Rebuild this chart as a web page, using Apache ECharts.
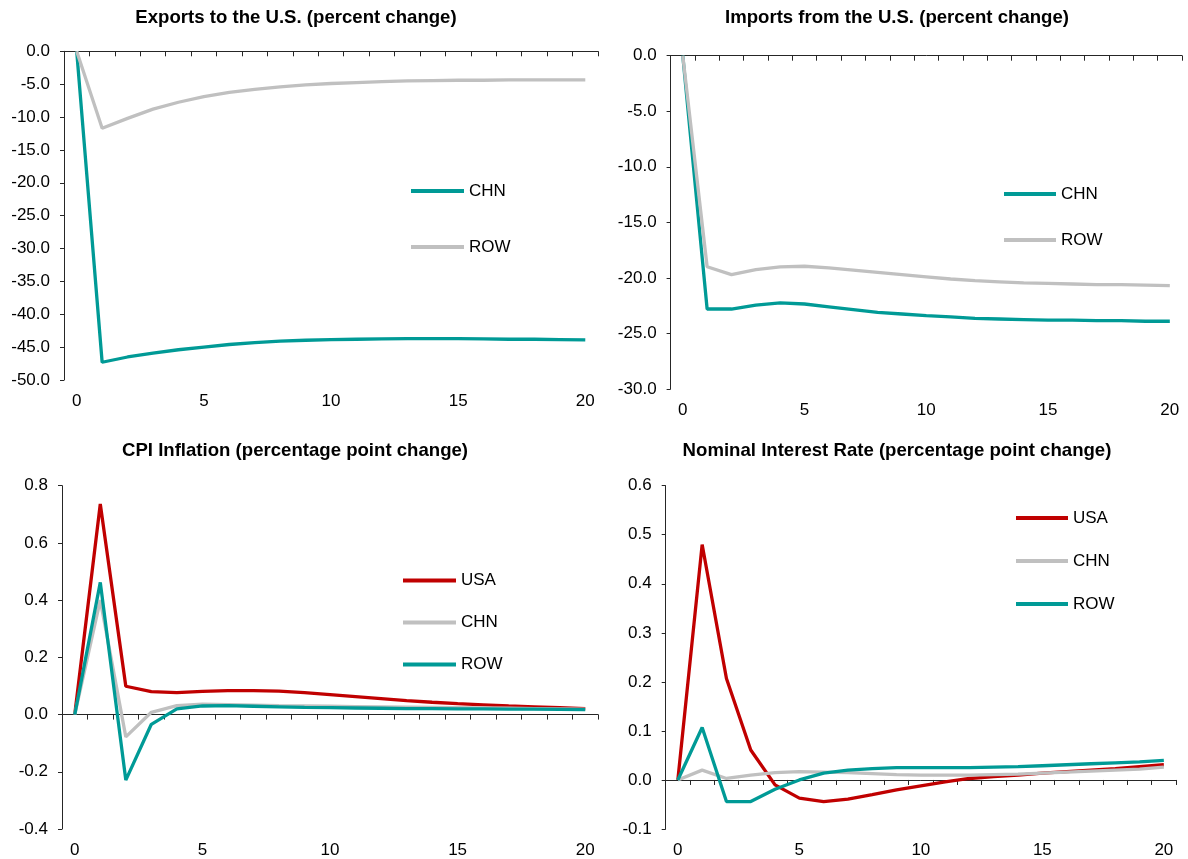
<!DOCTYPE html>
<html>
<head>
<meta charset="utf-8">
<script src="https://cdn.jsdelivr.net/npm/echarts@6/dist/echarts.min.js"></script>
<style>
  html, body { margin: 0; padding: 0; background: #fff; width: 1188px; height: 859px; overflow: hidden; }
  .panel { position: absolute; }
</style>
</head>
<body>
<div id="p1" class="panel" style="left:0;top:0;width:600px;height:430px"></div>
<div id="p2" class="panel" style="left:600px;top:0;width:588px;height:430px"></div>
<div id="p3" class="panel" style="left:0;top:430px;width:600px;height:429px"></div>
<div id="p4" class="panel" style="left:600px;top:430px;width:588px;height:429px"></div>
<script>
// Horizon (quarters after the shock)
const quarters = ['0','1','2','3','4','5','6','7','8','9','10','11','12','13','14','15','16','17','18','19','20'];

// Exports to the U.S. (percent change)
const exportsCHN = [0, -47.3, -46.5, -45.9, -45.4, -45.0, -44.6, -44.3, -44.1, -43.95, -43.85, -43.8, -43.75, -43.7, -43.7, -43.7, -43.75, -43.8, -43.8, -43.85, -43.9];
const exportsROW = [0, -11.7, -10.2, -8.8, -7.75, -6.9, -6.25, -5.8, -5.4, -5.1, -4.9, -4.75, -4.6, -4.5, -4.45, -4.4, -4.4, -4.35, -4.35, -4.35, -4.35];

// Imports from the U.S. (percent change)
const importsCHN = [0, -22.8, -22.8, -22.45, -22.25, -22.35, -22.6, -22.85, -23.1, -23.25, -23.4, -23.5, -23.65, -23.7, -23.75, -23.8, -23.8, -23.85, -23.85, -23.9, -23.9];
const importsROW = [0, -19.0, -19.7, -19.25, -19.0, -18.95, -19.1, -19.3, -19.5, -19.7, -19.9, -20.1, -20.25, -20.35, -20.45, -20.5, -20.55, -20.6, -20.6, -20.65, -20.7];

// CPI inflation (percentage point change)
const cpiUSA = [0, 0.736, 0.099, 0.080, 0.077, 0.081, 0.084, 0.084, 0.082, 0.077, 0.070, 0.063, 0.056, 0.049, 0.043, 0.038, 0.034, 0.030, 0.027, 0.024, 0.021];
const cpiCHN = [0, 0.40, -0.078, 0.008, 0.031, 0.036, 0.035, 0.033, 0.031, 0.030, 0.029, 0.028, 0.027, 0.026, 0.025, 0.024, 0.023, 0.022, 0.021, 0.020, 0.019];
const cpiROW = [0, 0.462, -0.229, -0.034, 0.020, 0.030, 0.031, 0.029, 0.027, 0.025, 0.024, 0.023, 0.022, 0.021, 0.021, 0.020, 0.020, 0.019, 0.019, 0.018, 0.017];

// Nominal interest rate (percentage point change)
const rateUSA = [0, 0.480, 0.207, 0.061, -0.010, -0.037, -0.044, -0.039, -0.030, -0.020, -0.012, -0.004, 0.003, 0.007, 0.010, 0.014, 0.017, 0.020, 0.023, 0.027, 0.031];
const rateCHN = [0, 0.020, 0.003, 0.010, 0.015, 0.017, 0.016, 0.015, 0.013, 0.011, 0.010, 0.010, 0.010, 0.011, 0.012, 0.014, 0.016, 0.018, 0.020, 0.022, 0.026];
const rateROW = [0, 0.107, -0.044, -0.044, -0.019, 0.000, 0.014, 0.020, 0.023, 0.025, 0.025, 0.025, 0.025, 0.026, 0.027, 0.029, 0.031, 0.033, 0.035, 0.037, 0.040];

const TEAL = '#009a96';
const RED = '#c00000';
const GRAY = '#c0c0c0';
const AXIS = '#262626';
const FONT = '"Liberation Sans", Arial, sans-serif';

function buildPanel(id, cfg) {
  const chart = echarts.init(document.getElementById(id), null, { renderer: 'canvas' });
  const labelStyle = { fontFamily: FONT, fontSize: 17, color: '#000' };

  // Axis drawn on the zero line: ticks between periods
  const zeroAxis = {
    type: 'category',
    data: quarters,
    boundaryGap: true,
    position: 'bottom',
    axisLine: { show: true, onZero: true, lineStyle: { color: AXIS, width: 1 } },
    axisTick: { show: true, interval: 0, length: 5, inside: false, lineStyle: { color: AXIS } },
    axisLabel: Object.assign({ show: cfg.labelsOnZero, interval: 4, margin: 13 }, labelStyle),
    splitLine: { show: false }
  };
  const xAxes = [zeroAxis];
  if (!cfg.labelsOnZero) {
    // Period labels along the bottom of the plot
    xAxes.push({
      type: 'category',
      data: quarters,
      boundaryGap: true,
      position: 'bottom',
      axisLine: { show: false, onZero: false },
      axisTick: { show: false },
      axisLabel: Object.assign({ show: true, interval: 4, margin: 13 }, labelStyle),
      splitLine: { show: false }
    });
  }

  chart.setOption({
    animation: false,
    backgroundColor: '#fff',
    title: {
      text: cfg.title,
      left: cfg.titleX,
      top: cfg.titleTop,
      textAlign: 'center',
      padding: 0,
      textStyle: { fontFamily: FONT, fontSize: 18.6, fontWeight: 'bold', color: '#000' }
    },
    legend: {
      orient: 'vertical',
      left: cfg.legend.left,
      top: cfg.legend.top,
      itemGap: cfg.legend.gap,
      itemWidth: cfg.legend.width,
      itemHeight: 4.2,
      icon: 'rect',
      padding: 0,
      selectedMode: false,
      textStyle: { fontFamily: FONT, fontSize: 17, color: '#000', padding: [0, 0, 0, 0] },
      data: cfg.series.map(s => s.name)
    },
    grid: Object.assign({ containLabel: false }, cfg.grid),
    xAxis: xAxes,
    yAxis: {
      type: 'value',
      min: cfg.y.min,
      max: cfg.y.max,
      interval: cfg.y.interval,
      axisLine: { show: true, lineStyle: { color: AXIS, width: 1 } },
      axisTick: { show: true, length: 4, inside: false, lineStyle: { color: AXIS } },
      axisLabel: Object.assign({ margin: 14, formatter: v => v.toFixed(1) }, labelStyle),
      splitLine: { show: false }
    },
    series: cfg.series.map(s => ({
      name: s.name,
      type: 'line',
      xAxisIndex: 0,
      yAxisIndex: 0,
      data: s.data,
      symbol: 'none',
      smooth: false,
      color: s.color,
      lineStyle: { color: s.color, width: 3.3 },
      itemStyle: { color: s.color }
    }))
  });
}

buildPanel('p1', {
  title: 'Exports to the U.S. (percent change)',
  titleX: 296, titleTop: 8,
  grid: { left: 64, right: 2, top: 51.3, bottom: 50 },
  y: { min: -50, max: 0, interval: 5 },
  labelsOnZero: false,
  legend: { left: 411, top: 182.5, gap: 39, width: 53 },
  series: [
    { name: 'CHN', data: exportsCHN, color: TEAL },
    { name: 'ROW', data: exportsROW, color: GRAY }
  ]
});

buildPanel('p2', {
  title: 'Imports from the U.S. (percent change)',
  titleX: 297, titleTop: 8,
  grid: { left: 70.6, right: 6, top: 55.7, bottom: 41 },
  y: { min: -30, max: 0, interval: 5 },
  labelsOnZero: true,
  legend: { left: 404, top: 185.5, gap: 29, width: 52 },
  series: [
    { name: 'CHN', data: importsCHN, color: TEAL },
    { name: 'ROW', data: importsROW, color: GRAY }
  ]
});

buildPanel('p3', {
  title: 'CPI Inflation (percentage point change)',
  titleX: 295, titleTop: 11,
  grid: { left: 62, right: 2, top: 55.7, bottom: 30 },
  y: { min: -0.4, max: 0.8, interval: 0.2 },
  labelsOnZero: false,
  legend: { left: 403, top: 142, gap: 25, width: 53 },
  series: [
    { name: 'USA', data: cpiUSA, color: RED },
    { name: 'CHN', data: cpiCHN, color: GRAY },
    { name: 'ROW', data: cpiROW, color: TEAL }
  ]
});

buildPanel('p4', {
  title: 'Nominal Interest Rate (percentage point change)',
  titleX: 297, titleTop: 11,
  grid: { left: 65.7, right: 12, top: 55.7, bottom: 30 },
  y: { min: -0.1, max: 0.6, interval: 0.1 },
  labelsOnZero: false,
  legend: { left: 416, top: 79.5, gap: 26, width: 52 },
  series: [
    { name: 'USA', data: rateUSA, color: RED },
    { name: 'CHN', data: rateCHN, color: GRAY },
    { name: 'ROW', data: rateROW, color: TEAL }
  ]
});
</script>
</body>
</html>
